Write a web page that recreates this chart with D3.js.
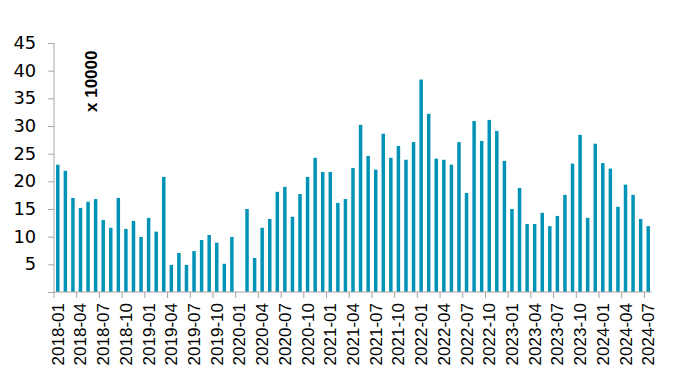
<!DOCTYPE html>
<html>
<head>
<meta charset="utf-8">
<script src="https://cdn.jsdelivr.net/npm/d3@7"></script>
<style>
  body { margin: 0; background: #fff; }
  text { font-family: "Liberation Sans", Arial, sans-serif; fill: #000; }
</style>
</head>
<body>
<svg></svg>
<script>
// months 2018-01 .. 2024-07
var months = [];
for (var yr = 2018; yr <= 2024; yr++) {
	for (var m = 1; m <= 12; m++) {
		if (yr == 2024 && m > 7) break;
		months.push(yr + '-' + (m < 10 ? '0' + m : m));
	}
}

// values, x 10000
var values = [
	23.0, 21.9, 17.0, 15.2, 16.3, 16.8, 13.0, 11.6, 17.0, 11.4, 12.85, 9.95,
	13.4, 10.9, 20.8, 4.9, 7.05, 4.9, 7.4, 9.4, 10.3, 8.9, 5.1, 9.95,
	0, 15.0, 6.15, 11.6, 13.2, 18.1, 19.0, 13.6, 17.7, 20.8, 24.25, 21.7,
	21.7, 16.1, 16.8, 22.4, 30.2, 24.6, 22.1, 28.6, 24.25, 26.4, 23.9, 27.1,
	38.4, 32.2, 24.1, 23.9, 23.0, 27.1, 17.9, 30.9, 27.3, 31.1, 29.1, 23.7,
	15.0, 18.8, 12.3, 12.3, 14.3, 11.9, 13.75, 17.55, 23.2, 28.4, 13.4, 26.8,
	23.3, 22.3, 15.4, 19.4, 17.55, 13.2, 11.9
];

var yTicks = [0, 5, 10, 15, 20, 25, 30, 35, 40, 45];
var tickMonths = months.filter(function(d, i){ return i % 3 == 0; });

var unit = {width: 673, height: 373};
var m = {left: 54, right: 21, top: 43, bottom: 81};

var svg = d3.select('svg')
			.attr('width', unit.width)
			.attr('height', unit.height);

var x = d3.scaleBand()
		.domain(months)
		.range([m.left, unit.width - m.right])
		.paddingInner(0.54)
		.paddingOuter(0.27);

var y = d3.scaleLinear()
		.domain([0, 45])
		.range([unit.height - m.bottom, m.top]);

var axisColor = '#a6a6a6';

// bars
svg.append('g')
	.selectAll('rect')
	.data(values)
	.enter()
	.append('rect')
	.attr('x', (d, i) => x(months[i]))
	.attr('width', x.bandwidth())
	.attr('y', (d) => y(d))
	.attr('height', (d) => y(0) - y(d))
	.attr('fill', '#0093b7');

// y axis
var gy = svg.append('g')
			.attr('transform', 'translate(' + m.left + ',0)')
			.call(d3.axisLeft(y).tickValues(yTicks).tickSize(6).tickPadding(11)
				.tickFormat((d) => d == 0 ? '' : d));
gy.selectAll('path, line').attr('stroke', axisColor);
gy.select('.domain').attr('d', 'M0,' + y(45) + 'V' + y(0));
gy.selectAll('text')
	.style('font-family', '"DejaVu Sans", sans-serif')
	.attr('font-size', 17)
	.attr('transform', 'scale(1.05,1)');

// x axis
var gx = svg.append('g')
			.attr('transform', 'translate(0,' + y(0) + ')');
gx.append('line')
	.attr('x1', x.range()[0]).attr('x2', x.range()[1])
	.attr('stroke', axisColor);
var off = x.step() * x.paddingOuter();
gx.selectAll('.tk')
	.data(tickMonths)
	.enter()
	.append('line')
	.classed('tk', true)
	.attr('x1', (d) => x(d) - off)
	.attr('x2', (d) => x(d) - off)
	.attr('y1', 0)
	.attr('y2', 6)
	.attr('stroke', axisColor);
gx.selectAll('.lb')
	.data(tickMonths)
	.enter()
	.append('text')
	.classed('lb', true)
	.attr('transform', (d) => 'translate(' + (x(d) + x.bandwidth() / 2 + 6) + ',11) rotate(-90)')
	.attr('text-anchor', 'end')
	.attr('font-size', 17)
	.text((d) => d);

// unit label
svg.append('text')
	.attr('transform', 'translate(97,112) rotate(-90)')
	.attr('font-size', 17)
	.attr('font-weight', 'bold')
	.text('x 10000');
</script>
</body>
</html>
